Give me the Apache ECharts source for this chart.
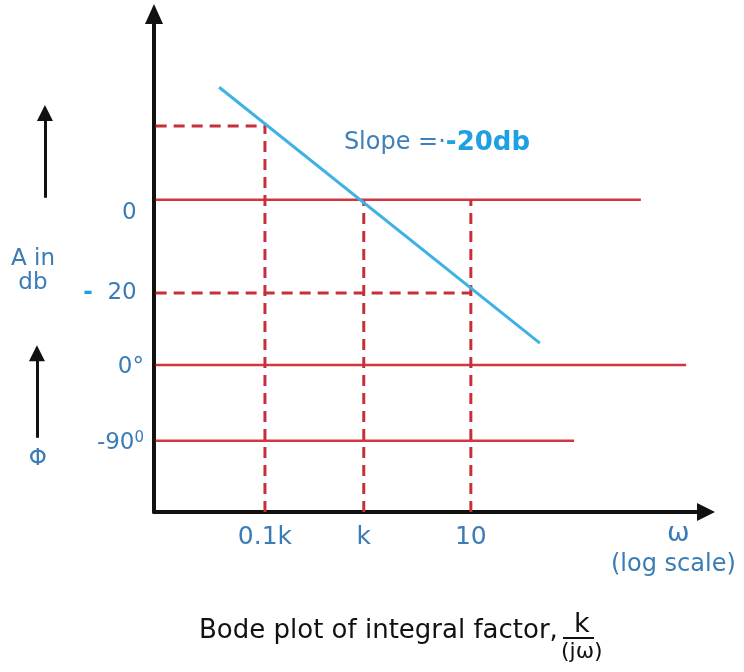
<!DOCTYPE html>
<html>
<head>
<meta charset="utf-8">
<script src="https://cdn.jsdelivr.net/npm/echarts@6/dist/echarts.min.js"></script>
<style>html,body{margin:0;padding:0;background:#fff}#c{width:744px;height:672px}</style>
</head>
<body>
<div id="c"></div>
<script>
// ---- data (chart units: 0..100 on both axes) ----
const freqLabels = ['0.1k', 'k', '10'];
const freqPos = [20.1, 38.0, 57.4];
const levelLabels = ['0', '- 20', '0°', '-90⁰'];
const levelLabelPos = [60.1, 44.0, 29.2, 13.8];
const solidLevels = [62.7, 29.5, 14.3];      // 0 dB, 0°, -90°
const solidEnds = [88.2, 96.4, 76.1];
const dashTops = [77.5, 62.7, 62.7];          // vertical dashed from axis up to
const dashHLevels = [77.5, 44.0];             // +20 dB, -20 dB
const dashHEnds = [20.1, 57.4];
const slopeLine = [[11.8, 85.3], [69.9, 33.9]];
const slopeText = [34.4, 74.1];
// left annotation panel
const ampArrow = [[29.2, 63.1], [29.2, 80.1]];
const phaseArrow = [[24.0, 14.9], [24.0, 31.9]];
const ampLabel = [21.4, 48.4];
const phaseLabel = [24.5, 10.6];

const FONT = 'DejaVu Sans';
const BLUE_TXT = '#3b7cb6';
const BRIGHT = '#1ea0e2';
const RED = '#d3363e';
const RED_D = '#c5303a';

const series = [];
solidLevels.forEach((y, i) => {
  series.push({type: 'line', xAxisIndex: 0, yAxisIndex: 0, symbol: 'none', silent: true, z: 2,
    lineStyle: {color: RED, width: 2.5}, data: [[0.3, y], [solidEnds[i], y]]});
});
freqPos.forEach((x, i) => {
  series.push({type: 'line', xAxisIndex: 0, yAxisIndex: 0, symbol: 'none', silent: true, z: 2,
    lineStyle: {color: RED_D, width: 3, type: [11, 7]}, data: [[x, 0], [x, dashTops[i]]]});
});
dashHLevels.forEach((y, i) => {
  series.push({type: 'line', xAxisIndex: 0, yAxisIndex: 0, symbol: 'none', silent: true, z: 2,
    lineStyle: {color: RED_D, width: 3, type: [11, 7]}, data: [[0.3, y], [dashHEnds[i], y]]});
});
series.push({type: 'line', xAxisIndex: 0, yAxisIndex: 0, symbol: 'none', silent: true, z: 3,
  lineStyle: {color: '#3fb2e3', width: 3}, data: slopeLine});
series.push({type: 'scatter', xAxisIndex: 0, yAxisIndex: 0, symbolSize: 0, silent: true,
  itemStyle: {opacity: 1},
  data: [slopeText],
  label: {show: true, position: 'right', distance: 0, fontFamily: FONT,
    formatter: '{a|Slope =·}{b|-20db}',
    rich: {a: {color: '#3f80ba', fontSize: 24, fontFamily: FONT},
           b: {color: BRIGHT, fontSize: 26, fontWeight: 'bold', fontFamily: FONT}}}});
// left panel arrows
[ampArrow, phaseArrow].forEach(a => {
  series.push({type: 'line', xAxisIndex: 1, yAxisIndex: 1, symbol: 'none', silent: true,
    lineStyle: {opacity: 0}, data: a,
    markLine: {silent: true, symbol: ['none', 'triangle'], symbolSize: [16, 16],
      lineStyle: {color: '#111', width: 3, type: 'solid'}, label: {show: false},
      data: [[{coord: a[0]}, {coord: a[1]}]]}});
});
series.push({type: 'scatter', xAxisIndex: 1, yAxisIndex: 1, symbolSize: 0, silent: true,
  itemStyle: {opacity: 1},
  data: [{value: ampLabel, name: 'A in\ndb'}, {value: phaseLabel, name: 'Φ'}],
  label: {show: true, position: 'inside', formatter: '{b}', color: BLUE_TXT,
    fontSize: 23, lineHeight: 24, fontFamily: FONT}});

const chart = echarts.init(document.getElementById('c'));
chart.setOption({
  animation: false,
  backgroundColor: '#fff',
  grid: [
    {left: 154, right: 38, top: 14, bottom: 160},
    {left: 0, width: 154, top: 14, bottom: 160}
  ],
  xAxis: [
    {type: 'value', gridIndex: 0, min: 0, max: 100, splitLine: {show: false},
     axisLine: {onZero: false, lineStyle: {color: '#111', width: 4}, symbol: ['none', 'triangle'],
       symbolSize: [18, 18]},
     axisTick: {show: false},
     axisLabel: {customValues: freqPos, margin: 13, color: BLUE_TXT, fontSize: 25, fontFamily: FONT,
       formatter: v => freqLabels[freqPos.indexOf(v)]}},
    {type: 'value', gridIndex: 1, min: 0, max: 100, show: false}
  ],
  yAxis: [
    {type: 'value', gridIndex: 0, min: 0, max: 100, splitLine: {show: false},
     axisLine: {onZero: false, lineStyle: {color: '#111', width: 4}, symbol: ['none', 'triangle'],
       symbolSize: [18, 20]},
     axisTick: {show: false},
     axisLabel: {customValues: levelLabelPos, margin: 10, color: BLUE_TXT, fontSize: 23, fontFamily: FONT,
       formatter: v => {
         const s = levelLabels[levelLabelPos.indexOf(v)];
         if (s === '- 20') return '{d|-}  20 ';
         if (s === '-90⁰') return '-90{s|0}';
         if (s === '0') return '0 ';
         return s;
       },
       rich: {d: {color: BRIGHT, fontSize: 23, fontWeight: 'bold', fontFamily: FONT},
              s: {fontSize: 15, verticalAlign: 'top', padding: [0, 0, 10, 0], color: BLUE_TXT, fontFamily: FONT}}}},
    {type: 'value', gridIndex: 1, min: 0, max: 100, show: false}
  ],
  graphic: [
    {type: 'text', left: 667, top: 520, style: {text: 'ω', fill: BLUE_TXT, font: '27px "' + FONT + '"'}},
    {type: 'text', left: 611, top: 553, style: {text: '(log scale)', fill: BLUE_TXT, font: '24px "' + FONT + '"'}},
    {type: 'text', left: 199, top: 618, style: {text: 'Bode plot of integral factor,', fill: '#111', font: '26px "' + FONT + '"'}},
    {type: 'text', left: 574, top: 611, style: {text: 'k', fill: '#111', font: '27px "' + FONT + '"'}},
    {type: 'line', shape: {x1: 563, y1: 638, x2: 594, y2: 638}, style: {stroke: '#111', lineWidth: 2}},
    {type: 'text', left: 561, top: 641, style: {text: '(jω)', fill: '#111', font: '22px "' + FONT + '"'}}
  ],
  series: series
});
</script>
</body>
</html>
